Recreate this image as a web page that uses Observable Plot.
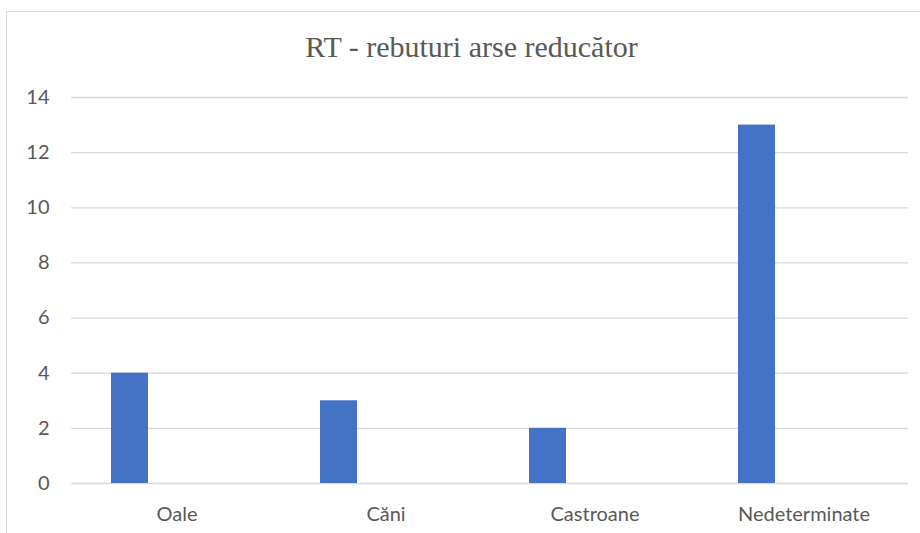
<!DOCTYPE html>
<html>
<head>
<meta charset="utf-8">
<script src="https://cdn.jsdelivr.net/npm/d3@7"></script>
<script src="https://cdn.jsdelivr.net/npm/@observablehq/plot@0.6"></script>
<style>
  html, body { margin: 0; padding: 0; background: #fff; width: 920px; height: 533px; overflow: hidden; }
  #wrap { position: relative; width: 920px; height: 533px; }
  #chart { position: absolute; left: 0; top: 0; }
  #border { position: absolute; left: 6px; top: 11px; width: 1000px; height: 1000px; border: 1px solid #d9d9d9; box-sizing: border-box; pointer-events: none; }
  #title { position: absolute; left: 0; top: 32px; width: 943px; text-align: center; font-family: "Liberation Serif", "Times New Roman", serif; font-size: 30px; line-height: 30px; color: #595959; white-space: nowrap; }
</style>
</head>
<body>
<div id="wrap">
  <div id="chart"></div>
  <div id="border"></div>
  <div id="title"></div>
</div>
<script>
const titleText = "RT - rebuturi arse reducător";
const categories = ["Oale", "Căni", "Castroane", "Nedeterminate"];
const values = [4, 3, 2, 13];
const yTicks = [0, 2, 4, 6, 8, 10, 12, 14];

const data = categories.map((c, i) => ({category: c, value: values[i]}));

document.getElementById("title").textContent = titleText;

const chart = Plot.plot({
  width: 920,
  height: 533,
  marginTop: 97,
  marginBottom: 50,
  marginLeft: 71,
  marginRight: 12,
  style: {background: "transparent", fontFamily: "Lato, 'Open Sans', sans-serif", fontSize: "20px", color: "#595959", overflow: "visible"},
  x: {type: "band", domain: categories, range: [71, 908], padding: 0, tickSize: 0, tickPadding: 23, label: null},
  y: {domain: [0, 14], ticks: yTicks, tickSize: 0, tickPadding: 22, label: null},
  marks: [
    Plot.ruleY(yTicks, {stroke: "#d9d9d9", strokeWidth: 1.3}),
    Plot.barY(data, {x: "category", y: "value", fill: "#4472C4", insetLeft: 39, insetRight: 133})
  ]
});
document.getElementById("chart").appendChild(chart);
</script>
</body>
</html>
